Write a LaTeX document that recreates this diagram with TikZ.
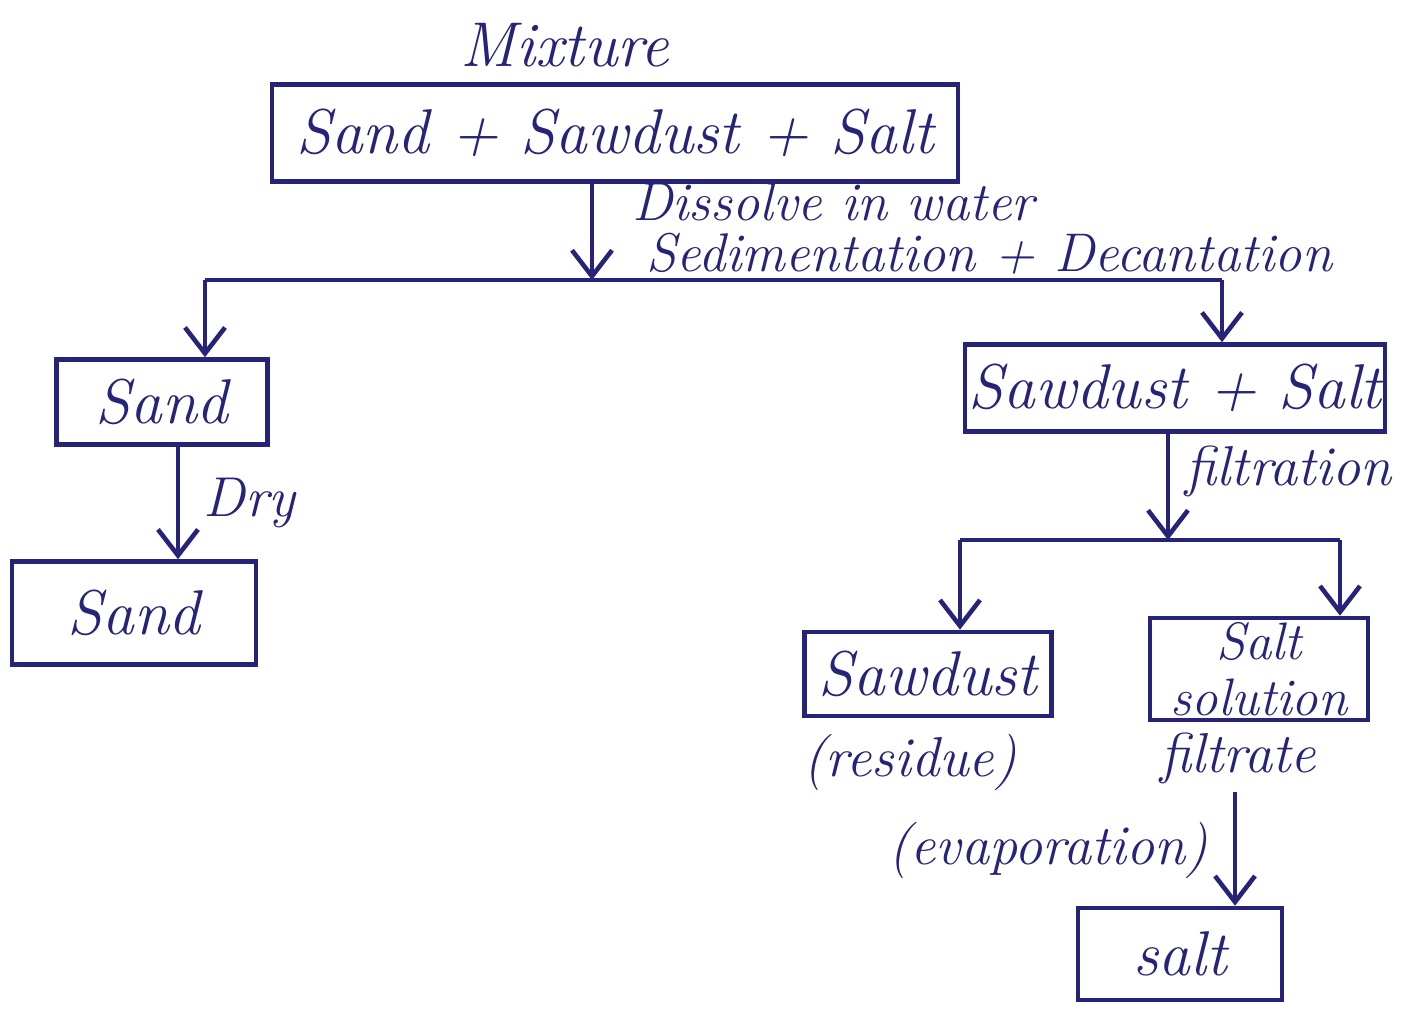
\documentclass[tikz,border=0pt]{standalone}
\usepackage{tikz}
\usetikzlibrary{arrows.meta,calc,positioning}
\definecolor{ink}{RGB}{38,36,120}

\begin{document}
\begin{tikzpicture}[>={Straight Barb[length=2.6mm,width=4mm]},
  ink line/.style={draw=ink,line width=1.3pt},
  box/.style={ink line,rectangle,inner sep=0pt,text=ink,font=\fontsize{18}{22}\selectfont\itshape},
  note/.style={text=ink,inner sep=1pt,font=\fontsize{16}{19}\selectfont\itshape}]
\useasboundingbox[fill=white] (0,0) rectangle (14.14,-10.23);
% title and mixture
\node[note,font=\fontsize{18}{22}\selectfont\itshape] (mixlbl) at (5.65,-0.45) {Mixture};
\node[box,minimum width=6.86cm,minimum height=0.97cm] (mix) at (6.15,-1.33) {Sand + Sawdust + Salt};
% first step
\coordinate (j1) at (5.92,-2.80); \coordinate (l1) at (2.05,-2.80); \coordinate (r1) at (12.22,-2.80);
\draw[ink line,->] (mix.south -| j1) -- (j1);
\node[note,anchor=west,font=\fontsize{15.5}{18}\selectfont\itshape] (dissolve) at (6.28,-2.02) {Dissolve in water};
\node[note,anchor=west,font=\fontsize{15.5}{18}\selectfont\itshape] (sedim) at (6.42,-2.54) {Sedimentation + Decantation};
\draw[ink line] (l1) -- (r1);
% left branch
\node[box,minimum width=2.11cm,minimum height=0.85cm] (sand) at (1.62,-4.02) {Sand};
\node[box,minimum width=2.44cm,minimum height=1.03cm] (drysand) at (1.34,-6.13) {Sand};
\draw[ink line,->] (l1) -- (l1 |- sand.north);
\coordinate (d1) at (1.78,-4.45);
\draw[ink line,->] (sand.south -| d1) -- (d1 |- drysand.north) node[midway,right=0.2cm,note] (dry) {Dry};
% right branch
\node[box,minimum width=4.20cm,minimum height=0.87cm] (mixtwo) at (11.75,-3.88) {Sawdust + Salt};
\draw[ink line,->] (r1) -- (r1 |- mixtwo.north);
\coordinate (j2) at (11.68,-5.40); \coordinate (l2) at (9.60,-5.40); \coordinate (r2) at (13.40,-5.40);
\draw[ink line,->] (mixtwo.south -| j2) -- (j2) node[pos=0.35,right=0.12cm,note] (filt) {filtration};
\draw[ink line] (l2) -- (r2);
\node[box,minimum width=2.47cm,minimum height=0.84cm] (sawdust) at (9.28,-6.74) {Sawdust};
\node[box,minimum width=2.18cm,minimum height=1.02cm,align=center,font=\fontsize{15}{16}\selectfont\itshape] (saltsol) at (12.59,-6.69) {Salt\\solution};
\draw[ink line,->] (l2) -- (l2 |- sawdust.north);
\draw[ink line,->] (r2) -- (r2 |- saltsol.north);
\node[note] (residue) at (9.10,-7.62) {(residue)};
\node[note] (filtrate) at (12.38,-7.58) {filtrate};
% evaporation
\node[box,minimum width=2.04cm,minimum height=0.92cm] (salt) at (11.80,-9.54) {salt};
\coordinate (e1) at (12.35,-7.92);
\draw[ink line,->] (e1) -- (e1 |- salt.north);
\node[note] (evap) at (10.48,-8.50) {(evaporation)};
\end{tikzpicture}
\end{document}
